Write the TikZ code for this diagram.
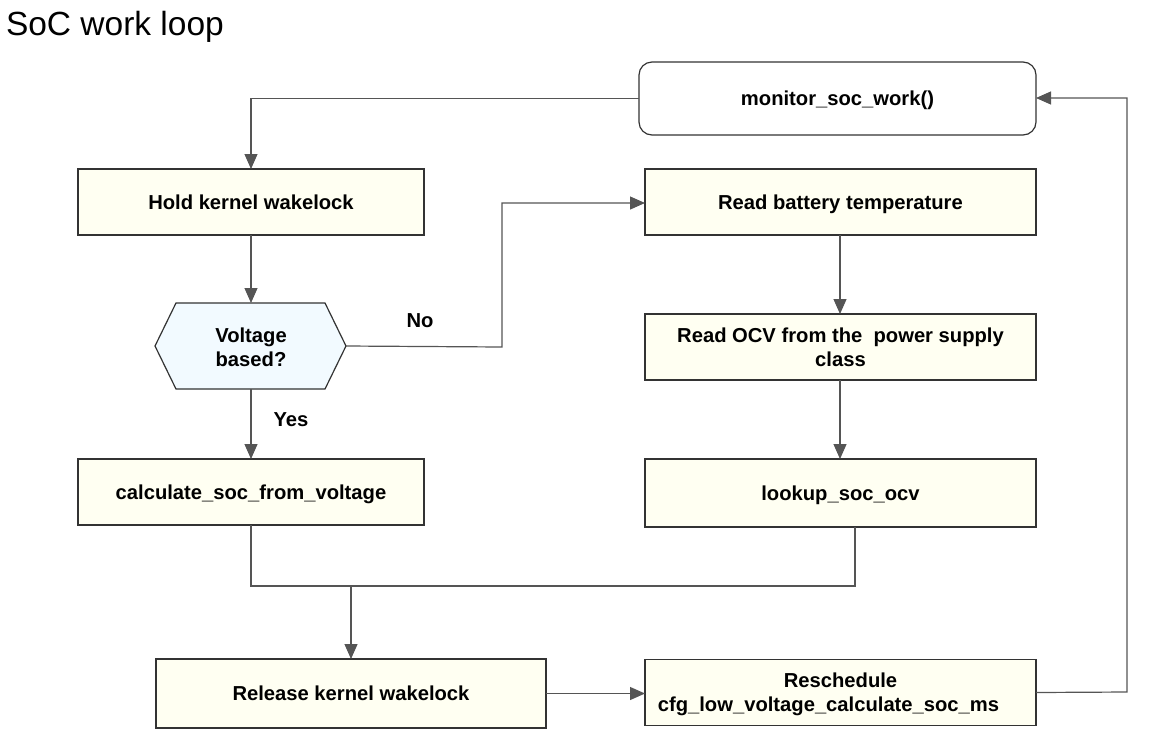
\documentclass[tikz,border=0pt]{standalone}
\usepackage{fontspec}
\setmainfont{Liberation Sans}
\usetikzlibrary{arrows.meta}
\definecolor{boxfill}{HTML}{FFFFF2}
\definecolor{hexfill}{HTML}{F2FAFF}
\definecolor{linecol}{HTML}{555555}
\definecolor{bordercol}{HTML}{333333}
\begin{document}
\begin{tikzpicture}[x=1pt,y=-1pt,
  every node/.style={inner sep=0pt,outer sep=0pt},
  bfont/.style={font=\fontsize{20.2}{24}\selectfont\bfseries},
  procbox/.style={draw=bordercol,line width=1.2pt,fill=boxfill,bfont,align=center,text depth=0.5pt},
  conn/.style={draw=linecol,line width=1.2pt},
  arr/.style={conn,-{Triangle[length=15pt,width=13pt]}},
  lbl/.style={bfont}]
\useasboundingbox (0,0) rectangle (1153,742);
% title
\node[anchor=base west,font=\fontsize{33.5}{38}\selectfont] (title) at (6,35) {SoC work loop};
% nodes
\node[draw=bordercol,line width=1.2pt,fill=white,rounded corners=13pt,minimum width=397pt,minimum height=73pt,bfont,text depth=0.5pt] (mon) at (837.5,98.5) {monitor\_soc\_work()};
\node[procbox,minimum width=346pt,minimum height=66pt] (hold) at (251,202) {Hold kernel wakelock};
\path[draw=bordercol,line width=1.2pt,fill=hexfill] (155,346) -- (176,303) -- (325,303) -- (346,346) -- (325,389) -- (176,389) -- cycle;
\node[lbl,align=center] (hextxt) at (251,347) {Voltage\\based?};
\coordinate (hexN) at (251,303);
\coordinate (hexS) at (251,389);
\coordinate (hexE) at (346,346);
\node[procbox,minimum width=346pt,minimum height=66pt] (calc) at (251,492) {calculate\_soc\_from\_voltage};
\node[procbox,minimum width=391pt,minimum height=66pt] (temp) at (840.5,202) {Read battery temperature};
\node[procbox,minimum width=391pt,minimum height=66pt] (ocv) at (840.5,347) {Read OCV from the\ \ power supply\\class};
\node[procbox,minimum width=391pt,minimum height=68pt] (look) at (840.5,493) {lookup\_soc\_ocv};
\node[procbox,minimum width=390pt,minimum height=69pt] (rel) at (351,693.5) {Release kernel wakelock};
\node[procbox,minimum width=391pt,minimum height=66pt] (res) at (840.5,692.5) {Reschedule\\cfg\_low\_voltage\_calculate\_soc\_ms\hspace*{24pt}};
% labels
\node[lbl] (no) at (420,321) {No};
\node[lbl] (yes) at (291,420) {Yes};
% connectors
\coordinate (j1) at (251,98.5);
\draw[arr] (mon.west) -- (j1) -- (hold.north);
\draw[arr] (hold.south) -- (hexN);
\coordinate (n1) at (502,347);
\coordinate (n2) at (502,203);
\draw[arr] (hexE) -- (n1) -- (n2) -- (temp.west |- n2);
\draw[arr] (hexS) -- (calc.north);
\draw[arr] (temp.south -| 840,0) -- (ocv.north -| 840,0);
\draw[arr] (ocv.south -| 840,0) -- (look.north -| 840,0);
\coordinate (m1) at (251,586);
\coordinate (m2) at (855,586);
\coordinate (m3) at (351,586);
\draw[conn] (calc.south) -- (m1) -- (m2) -- (look.south -| m2);
\draw[arr] (m3) -- (rel.north);
\draw[arr] (rel.east) -- (res.west |- rel.east);
\coordinate (r1) at (1127,692);
\coordinate (r2) at (1127,98);
\draw[arr] (res.east) -- (r1) -- (r2) -- (mon.east |- r2);
\end{tikzpicture}
\end{document}
